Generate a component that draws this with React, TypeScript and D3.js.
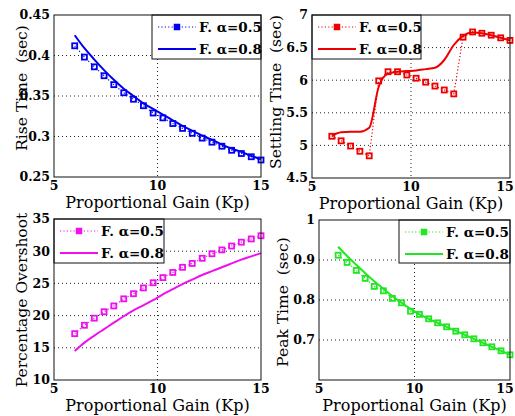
import React from "react";
import * as d3 from "d3";

// ---------- data ----------
const kp = [6, 6.47, 6.95, 7.42, 7.89, 8.37, 8.84, 9.32, 9.79, 10.26, 10.74, 11.21, 11.68, 12.16, 12.63, 13.11, 13.58, 14.05, 14.53, 15];

const riseA05 = [0.412, 0.398, 0.386, 0.375, 0.364, 0.354, 0.346, 0.338, 0.329, 0.323, 0.316, 0.31, 0.304, 0.298, 0.293, 0.288, 0.283, 0.279, 0.275, 0.271];
const riseA08 = [0.425, 0.409, 0.395, 0.382, 0.37, 0.359, 0.35, 0.341, 0.334, 0.327, 0.32, 0.313, 0.307, 0.301, 0.296, 0.29, 0.285, 0.281, 0.276, 0.272];

const settleA05 = [5.14, 5.07, 4.99, 4.91, 4.84, 5.99, 6.13, 6.13, 6.08, 6.03, 5.97, 5.91, 5.85, 5.79, 6.66, 6.74, 6.72, 6.69, 6.65, 6.61];
const settleA08 = [5.15, 5.2, 5.21, 5.21, 5.27, 5.9, 6.1, 6.13, 6.14, 6.15, 6.17, 6.19, 6.31, 6.54, 6.68, 6.73, 6.72, 6.69, 6.65, 6.61];

const overA05 = [17.2, 18.5, 19.6, 20.6, 21.5, 22.6, 23.4, 24.3, 25.1, 25.9, 26.7, 27.5, 28.1, 28.9, 29.6, 30.2, 30.8, 31.4, 31.9, 32.4];
const overA08 = [14.5, 15.8, 16.9, 17.9, 18.9, 19.9, 20.8, 21.6, 22.4, 23.3, 24.1, 24.9, 25.6, 26.3, 26.9, 27.5, 28.1, 28.7, 29.2, 29.7];

const peakA05 = [0.912, 0.894, 0.874, 0.854, 0.834, 0.823, 0.804, 0.793, 0.772, 0.764, 0.753, 0.743, 0.733, 0.722, 0.713, 0.703, 0.693, 0.683, 0.673, 0.663];
const peakA08 = [0.933, 0.91, 0.888, 0.867, 0.847, 0.828, 0.81, 0.793, 0.778, 0.764, 0.753, 0.743, 0.733, 0.723, 0.713, 0.703, 0.693, 0.683, 0.673, 0.663];

const xTicks = [5, 10, 15];
const xTickLabels = ["5", "10", "15"];
const riseTicks = [0.25, 0.3, 0.35, 0.4, 0.45];
const riseTickLabels = ["0.25", "0.3", "0.35", "0.4", "0.45"];
const settleTicks = [4.5, 5, 5.5, 6, 6.5, 7];
const settleTickLabels = ["4.5", "5", "5.5", "6", "6.5", "7"];
const overTicks = [10, 15, 20, 25, 30, 35];
const overTickLabels = ["10", "15", "20", "25", "30", "35"];
const peakTicks = [0.7, 0.8, 0.9, 1];
const peakTickLabels = ["0.7", "0.8", "0.9", "1"];

const legendLabels = ["F. \u03b1=0.5", "F. \u03b1=0.8"];
const xLabel = "Proportional Gain (Kp)";

const FONT = "'DejaVu Serif', serif";

type PanelCfg = {
  left: number; right: number; top: number; bottom: number;
  yDomain: [number, number];
  yTicks: number[]; yTickLabels: string[];
  a05: number[]; a08: number[];
  color: string;
  ylabel: string; ylabelX: number; ylabelY: number;
  legend: { x: number; y: number; w: number; h: number };
};

const panels: PanelCfg[] = [
  {
    left: 54, right: 261, top: 15, bottom: 177,
    yDomain: [0.25, 0.45], yTicks: riseTicks, yTickLabels: riseTickLabels,
    a05: riseA05, a08: riseA08, color: "#0000ee",
    ylabel: "Rise Time  (sec)", ylabelX: 27, ylabelY: 88,
    legend: { x: 152, y: 15, w: 109, h: 44 },
  },
  {
    left: 312, right: 510, top: 15, bottom: 178,
    yDomain: [4.5, 7], yTicks: settleTicks, yTickLabels: settleTickLabels,
    a05: settleA05, a08: settleA08, color: "#ee0000",
    ylabel: "Settling Time  (sec)", ylabelX: 281, ylabelY: 92,
    legend: { x: 312, y: 15, w: 109, h: 44 },
  },
  {
    left: 54, right: 261, top: 219, bottom: 380,
    yDomain: [10, 35], yTicks: overTicks, yTickLabels: overTickLabels,
    a05: overA05, a08: overA08, color: "#ee11ee",
    ylabel: "Percentage Overshoot", ylabelX: 27, ylabelY: 300,
    legend: { x: 54, y: 219, w: 110, h: 44 },
  },
  {
    left: 319, right: 510, top: 220, bottom: 380,
    yDomain: [0.6, 1], yTicks: peakTicks, yTickLabels: peakTickLabels,
    a05: peakA05, a08: peakA08, color: "#22e622",
    ylabel: "Peak Time  (sec)", ylabelX: 288, ylabelY: 302,
    legend: { x: 399, y: 220, w: 111, h: 43 },
  },
];

function Panel({ cfg }: { cfg: PanelCfg }) {
  const x = d3.scaleLinear().domain([5, 15]).range([cfg.left, cfg.right]);
  const y = d3.scaleLinear().domain(cfg.yDomain).range([cfg.bottom, cfg.top]);
  const pts05 = kp.map((k, i) => [x(k), y(cfg.a05[i])] as [number, number]);
  const pts08 = kp.map((k, i) => [x(k), y(cfg.a08[i])] as [number, number]);
  const lineStraight = d3.line();
  const lineSmooth = d3.line().curve(d3.curveMonotoneX);
  const ms = 5;
  const lg = cfg.legend;
  const row1 = lg.y + 12;
  const row2 = lg.y + 34;
  const sx0 = lg.x + 6;
  const sx1 = lg.x + 44;
  const inner = cfg.yTicks.filter((t) => t !== cfg.yDomain[0] && t !== cfg.yDomain[1]);
  return (
    <g>
      <rect x={cfg.left} y={cfg.top} width={cfg.right - cfg.left} height={cfg.bottom - cfg.top} fill="#fff" />
      {/* grid */}
      {inner.map((t) => (
        <line key={"gy" + t} x1={cfg.left} x2={cfg.right} y1={y(t)} y2={y(t)} stroke="#222" strokeWidth={1} strokeDasharray="1,3" />
      ))}
      <line x1={x(10)} x2={x(10)} y1={cfg.top} y2={cfg.bottom} stroke="#222" strokeWidth={1} strokeDasharray="1,3" />
      {/* series */}
      <path d={lineStraight(pts05) || ""} fill="none" stroke={cfg.color} strokeWidth={1.2} strokeDasharray="1.2,2.2" />
      {pts05.map((p, i) => (
        <rect key={i} x={p[0] - ms / 2} y={p[1] - ms / 2} width={ms} height={ms} fill="none" stroke={cfg.color} strokeWidth={1.8} />
      ))}
      <path d={lineSmooth(pts08) || ""} fill="none" stroke={cfg.color} strokeWidth={2} />
      {/* legend */}
      <rect x={lg.x} y={lg.y} width={lg.w} height={lg.h} fill="#fff" stroke="#111" strokeWidth={1} />
      <line x1={sx0} x2={sx1} y1={row1} y2={row1} stroke={cfg.color} strokeWidth={1.2} strokeDasharray="1.2,2.2" />
      <rect x={(sx0 + sx1) / 2 - 2.5} y={row1 - 2.5} width={5} height={5} fill={cfg.color} stroke={cfg.color} strokeWidth={1.5} />
      <line x1={sx0} x2={sx1} y1={row2} y2={row2} stroke={cfg.color} strokeWidth={2} />
      <text x={lg.x + 47} y={row1} dy="0.35em" style={{ fontFamily: FONT }} fontWeight="bold" fontSize={13.5} fill="#000">{legendLabels[0]}</text>
      <text x={lg.x + 47} y={row2} dy="0.35em" style={{ fontFamily: FONT }} fontWeight="bold" fontSize={13.5} fill="#000">{legendLabels[1]}</text>
      {/* box */}
      <rect x={cfg.left} y={cfg.top} width={cfg.right - cfg.left} height={cfg.bottom - cfg.top} fill="none" stroke="#111" strokeWidth={1} />
      {/* ticks */}
      {cfg.yTicks.map((t, i) => (
        <text key={"yt" + t} x={cfg.left - 4} y={y(t)} dy="0.35em" textAnchor="end" style={{ fontFamily: FONT }} fontWeight="bold" fontSize={12.5} fill="#000">{cfg.yTickLabels[i]}</text>
      ))}
      {xTicks.map((t, i) => (
        <text key={"xt" + t} x={Math.min(x(t), 505)} y={cfg.bottom + 13} textAnchor="middle" style={{ fontFamily: FONT }} fontWeight="bold" fontSize={12.5} fill="#000">{xTickLabels[i]}</text>
      ))}
      {/* labels */}
      <text x={(cfg.left + cfg.right) / 2} y={cfg.bottom + 31} textAnchor="middle" style={{ fontFamily: FONT }} fontSize={16} fill="#000">{xLabel}</text>
      <text transform={`translate(${cfg.ylabelX},${cfg.ylabelY}) rotate(-90)`} textAnchor="middle" fontSize={15.5} fill="#000" style={{ whiteSpace: "pre", fontFamily: FONT }}>{cfg.ylabel}</text>
    </g>
  );
}

export default function App() {
  return (
    <svg width={515} height={416} style={{ position: "fixed", left: 0, top: 0, background: "#fff" }}>
      <rect x={0} y={0} width={515} height={416} fill="#fff" />
      {panels.map((p, i) => (
        <Panel key={i} cfg={p} />
      ))}
    </svg>
  );
}
